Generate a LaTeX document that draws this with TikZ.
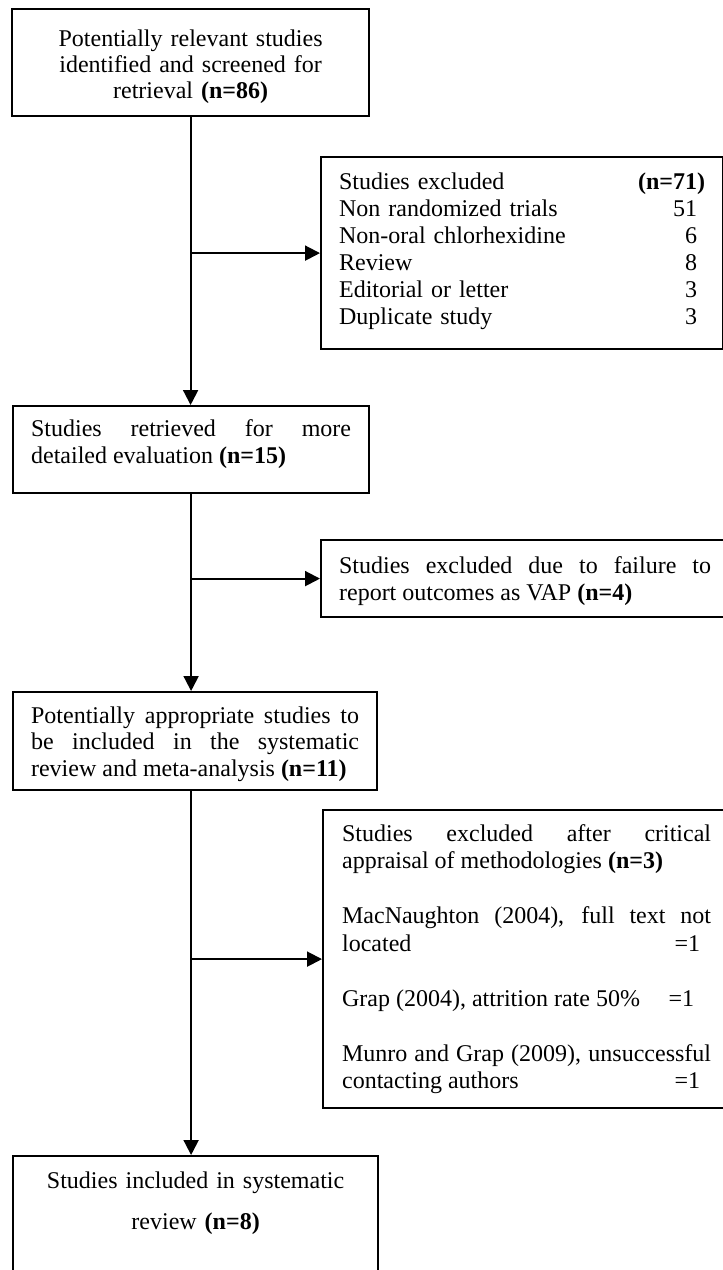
\documentclass[tikz,border=0pt]{standalone}
\usepackage{fontspec}
\setmainfont{Liberation Serif}
\usepackage{tikz}
\usetikzlibrary{arrows.meta}
\hyphenpenalty=10000
\tolerance=10000
\hbadness=10000

\begin{document}
\begin{tikzpicture}[x=1pt, y=-1pt,
    box/.style={draw, line width=2.2pt, anchor=north west, inner xsep=18pt,
        inner ysep=0pt, font=\fontsize{24}{27}\selectfont},
    arr/.style={line width=2pt, -{Triangle[length=15pt, width=15pt]}}]
    \useasboundingbox (0, 0) rectangle (723, 1270);

    \node[box, align=center, text width=321pt, text height=37.5pt, text depth=69.5pt,
        font=\fontsize{24}{26}\selectfont]
        (ident) at (11, 8) {Potentially relevant studies\\ identified and screened for\\
        retrieval \textbf{(n=86)}};
    \node[box, text width=366pt, text height=32pt, text depth=160pt]
        (excl1) at (320, 156) {%
        \begin{tabular*}{\linewidth}[t]{@{}l@{\extracolsep{\fill}}r@{}}
            Studies excluded & \textbf{(n=71)}\\
            Non randomized trials & 51\hphantom{)}\\
            Non-oral chlorhexidine & 6\hphantom{)}\\
            Review & 8\hphantom{)}\\
            Editorial or letter & 3\hphantom{)}\\
            Duplicate study & 3\hphantom{)}
        \end{tabular*}};
    \node[box, align=justify, text width=320pt, text height=30pt, text depth=57pt]
        (retr) at (12, 405) {Studies retrieved for more detailed evaluation
        \textbf{(n=15)}};
    \node[box, align=justify, text width=372pt, text height=33pt, text depth=44pt]
        (excl2) at (320, 539) {Studies excluded due to failure to report outcomes
        as VAP \textbf{(n=4)}};
    \node[box, align=justify, text width=328pt, text height=31pt, text depth=67pt,
        font=\fontsize{24}{26.5}\selectfont]
        (approp) at (12, 691) {Potentially appropriate studies to be included in
        the systematic review and meta-analysis \textbf{(n=11)}};
    \node[box, align=justify, text width=369pt, inner xsep=19pt, text height=31pt,
        text depth=267pt, font=\fontsize{24}{27.5}\selectfont]
        (excl3) at (322, 809) {Studies excluded after critical appraisal of
        methodologies \textbf{(n=3)}\par\vspace{27.5pt}
        MacNaughton (2004), full text not located\hfill=1\hspace*{11pt}\mbox{}\par\vspace{27.5pt}
        Grap (2004), attrition rate 50\%\hfill=1\hspace*{17pt}\mbox{}\par\vspace{27.5pt}
        Munro and Grap (2009), unsuccessful contacting authors\hfill=1\hspace*{11pt}\mbox{}};
    \node[box, align=center, text width=329pt, text height=32pt, text depth=90pt]
        (incl) at (12, 1155) {Studies included in systematic\\[14pt]
        review \textbf{(n=8)}};

    \draw[arr] (ident.south) -- (ident.south |- retr.north);
    \draw[arr] (ident.south |- excl1.west) -- (excl1.west);
    \draw[arr] (retr.south) -- (retr.south |- approp.north);
    \draw[arr] (retr.south |- excl2.west) -- (excl2.west);
    \draw[arr] (retr.south |- approp.south) -- (retr.south |- incl.north);
    \draw[arr] (retr.south |- excl3.west) -- (excl3.west);
\end{tikzpicture}
\end{document}
